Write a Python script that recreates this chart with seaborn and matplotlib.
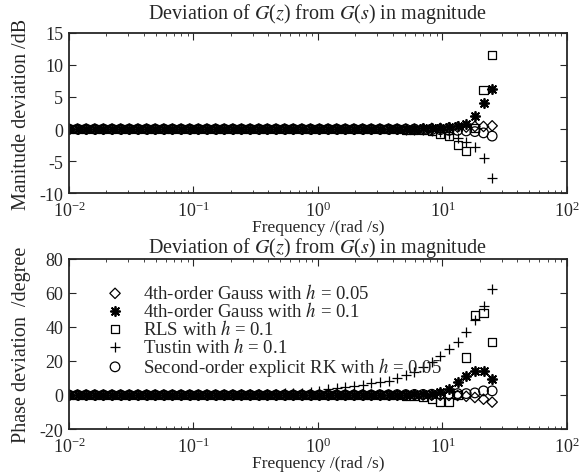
import matplotlib
matplotlib.use("Agg")
import matplotlib.pyplot as plt
import seaborn as sns
import pandas as pd

# frequency grid (rad/s)
freq = [0.01, 0.01173, 0.01376, 0.01614, 0.01893, 0.02221, 0.02605, 0.03056, 0.03585, 0.04206,
        0.04933, 0.05787, 0.06788, 0.07963, 0.09341, 0.1096, 0.1285, 0.1508, 0.1769, 0.2075,
        0.2434, 0.2855, 0.3349, 0.3929, 0.4608, 0.5406, 0.6341, 0.7439, 0.8726, 1.029,
        1.207, 1.415, 1.660, 1.948, 2.287, 2.683, 3.148, 3.694, 4.334, 5.084,
        5.964, 6.998, 8.211, 9.630, 11.30, 13.26, 15.55, 18.25, 21.41, 25.12]

labels = [r"4th-order Gauss with $h$ = 0.05",
          r"4th-order Gauss with $h$ = 0.1",
          r"RLS with $h$ = 0.1",
          r"Tustin with $h$ = 0.1",
          r"Second-order explicit RK with $h$ = 0.05"]

# magnitude deviation (dB)
mag_gauss05 = [0, 0, 0, 0, 0, 0, 0, 0, 0, 0, 0, 0, 0, 0, 0, 0, 0, 0, 0, 0,
               0, 0, 0, 0, 0, 0, 0, 0, 0, 0, 0, 0, 0, 0, 0, 0, 0, 0, 0, 0,
               0, 0, 0.1, 0.1, 0.2, 0.3, 0.3, 0.4, 0.4, 0.5]
mag_gauss1 = [0, 0, 0, 0, 0, 0, 0, 0, 0, 0, 0, 0, 0, 0, 0, 0, 0, 0, 0, 0,
              0, 0, 0, 0, 0, 0, 0, 0, 0, 0, 0, 0, 0, 0, 0, 0, 0, 0, 0, 0,
              0, 0.1, 0.1, 0.2, 0.3, 0.4, 0.8, 2.0, 4.0, 6.2]
mag_rls = [0, 0, 0, 0, 0, 0, 0, 0, 0, 0, 0, 0, 0, 0, 0, 0, 0, 0, 0, 0,
           0, 0, 0, 0, 0, 0, 0, 0, 0, 0, 0, 0, 0, 0, 0, 0, 0, 0, 0, -0.1,
           -0.1, -0.2, -0.3, -0.7, -1.1, -2.5, -3.4, 0.2, 6.1, 11.6]
mag_tustin = [0, 0, 0, 0, 0, 0, 0, 0, 0, 0, 0, 0, 0, 0, 0, 0, 0, 0, 0, 0,
              0, 0, 0, 0, 0, 0, 0, 0, 0, 0, 0, 0, 0, 0, 0, 0, 0, 0, 0, -0.1,
              -0.1, -0.2, -0.3, -0.5, -0.8, -1.4, -2.0, -2.8, -4.5, -7.7]
mag_rk = [0, 0, 0, 0, 0, 0, 0, 0, 0, 0, 0, 0, 0, 0, 0, 0, 0, 0, 0, 0,
          0, 0, 0, 0, 0, 0, 0, 0, 0, 0, 0, 0, 0, 0, 0, 0, 0, 0, 0, 0,
          0, -0.1, -0.1, -0.1, -0.2, -0.2, -0.3, -0.4, -0.6, -1.1]

# phase deviation (degree)
ph_gauss05 = [0, 0, 0, 0, 0, 0, 0, 0, 0, 0, 0, 0, 0, 0, 0, 0, 0, 0, 0, 0,
              0, 0, 0, 0, 0, 0, 0, 0, 0, 0, 0, 0, 0, 0, 0, 0, 0, 0, 0, 0,
              0, -0.1, -0.2, -0.2, -0.3, -0.3, -0.8, -1.5, -2.5, -4.2]
ph_gauss1 = [0, 0, 0, 0, 0, 0, 0, 0, 0, 0, 0, 0, 0, 0, 0, 0, 0, 0, 0, 0,
             0, 0, 0, 0, 0, 0, 0, 0, 0, 0, 0, 0, 0, 0, 0, 0, 0.1, 0.1, 0.2, 0.2,
             0.3, 0.5, 0.8, 1.5, 3.5, 7.6, 11.0, 14.0, 14.0, 9.4]
ph_rls = [0, 0, 0, 0, 0, 0, 0, 0, 0, 0, 0, 0, 0, 0, 0, 0, 0, 0, 0, 0,
          0, 0, 0, 0, 0, 0, 0, 0, 0, 0, 0, 0, 0, 0, 0, 0, 0, 0, -0.2, -0.3,
          -0.5, -1.0, -2.5, -4.0, -4.0, 0.0, 22.0, 47.0, 48.0, 31.0]
ph_tustin = [0, 0, 0, 0, 0, 0, 0, 0, 0, 0, 0, 0, 0, 0, 0, 0, 0.1, 0.1, 0.2, 0.2,
             0.3, 0.4, 0.5, 0.6, 0.7, 0.9, 1.1, 1.4, 1.9, 2.6,
             3.5, 3.9, 4.5, 5.3, 6.0, 7.0, 7.6, 8.3, 10.0, 11.5,
             13.5, 16.5, 19.5, 23.0, 27.0, 31.0, 37.0, 44.0, 52.0, 62.0]
ph_rk = [0, 0, 0, 0, 0, 0, 0, 0, 0, 0, 0, 0, 0, 0, 0, 0, 0, 0, 0, 0,
         0, 0, 0, 0, 0, 0, 0, 0, 0, 0, 0, 0, 0, 0, 0, 0, 0.1, 0.1, 0.2, 0.2,
         0.3, 0.3, 0.4, 0.5, 0.6, 0.8, 0.8, 1.2, 2.4, 2.4]

sns.set_style("ticks")
plt.rcParams["font.family"] = ["Liberation Serif", "DejaVu Serif"]
plt.rcParams["mathtext.fontset"] = "stix"
plt.rcParams["axes.unicode_minus"] = False
plt.rcParams["font.size"] = 13

markers = [dict(marker="D", s=28, facecolors="none", edgecolors="black", linewidths=0.9),
           dict(marker=(8, 2, 0), s=45, color="black", linewidths=1.3),
           dict(marker="s", s=34, facecolors="none", edgecolors="black", linewidths=0.9),
           dict(marker="+", s=55, color="black", linewidths=0.9),
           dict(marker="o", s=48, facecolors="none", edgecolors="black", linewidths=0.9)]

fig = plt.figure(figsize=(5.79, 4.77), dpi=100)
ax1 = fig.add_axes([0.119, 0.593, 0.860, 0.336])
ax2 = fig.add_axes([0.119, 0.0985, 0.860, 0.357])


def draw(ax, series, ylim, yticks, ylabel, title_pad, legend=False):
    for lab, ys, mk in zip(labels, series, markers):
        df = pd.DataFrame({"w": freq, "d": ys})
        sns.scatterplot(data=df, x="w", y="d", ax=ax, label=lab, legend=False, **mk)
    ax.set_xscale("log")
    ax.set_xlim(1e-2, 1e2)
    ax.set_ylim(*ylim)
    ax.set_yticks(yticks)
    ax.set_xlabel("Frequency /(rad /s)", labelpad=-1, fontsize=12.5)
    ax.set_ylabel(ylabel, labelpad=6, fontsize=14.5)
    ax.set_title(r"Deviation of $G$($z$) from $G$($s$) in magnitude", fontsize=14.5, pad=title_pad)
    ax.tick_params(which="both", direction="in", top=True, right=True, labelsize=13)
    ax.tick_params(axis="x", pad=5.5)
    ax.tick_params(axis="y", pad=4)
    ax.tick_params(which="major", length=5)
    ax.tick_params(which="minor", length=2.5)
    for sp in ax.spines.values():
        sp.set_linewidth(1.3)
    if legend:
        ax.legend(loc="upper left", bbox_to_anchor=(0.055, 0.9), frameon=False,
                  handletextpad=0.9, labelspacing=-0.06, handlelength=1.2,
                  borderaxespad=0, fontsize=13.5)


draw(ax1, [mag_gauss05, mag_gauss1, mag_rls, mag_tustin, mag_rk],
     (-10, 15), [-10, -5, 0, 5, 10, 15], "Manitude deviation /dB", 11)
draw(ax2, [ph_gauss05, ph_gauss1, ph_rls, ph_tustin, ph_rk],
     (-20, 80), [-20, 0, 20, 40, 60, 80], "Phase deviation  /degree", 3, legend=True)

fig.savefig("out.png", dpi=100)
